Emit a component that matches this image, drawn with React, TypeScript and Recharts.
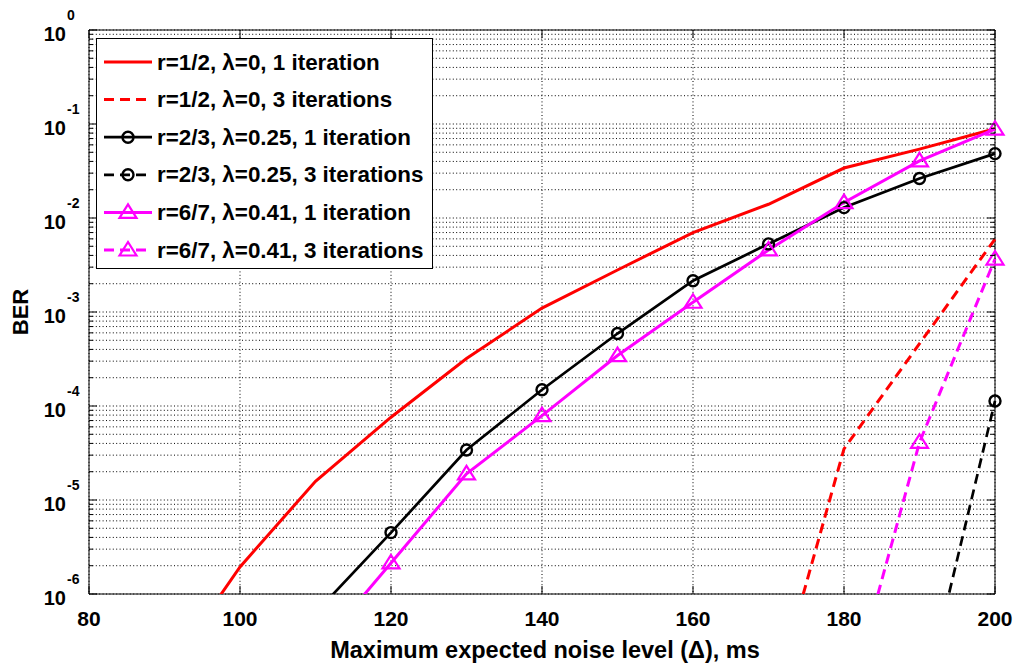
import React from "react";
import {
  LineChart,
  Line,
  XAxis,
  YAxis,
  CartesianGrid,
  Legend,
  ReferenceArea,
} from "recharts";

// x ticks and log decades
const xTicks = [80, 100, 120, 140, 160, 180, 200];
const decades = [-6, -5, -4, -3, -2, -1, 0];
const minorSteps = [1, 2, 3, 4, 5, 6, 7, 8, 9];

// r=1/2, lambda=0
const xR12One = [90, 100, 110, 120, 130, 140, 150, 160, 170, 180, 190, 200];
const berR12One = [1.35e-7, 1.94e-6, 1.58e-5, 7.6e-5, 3.2e-4, 1.1e-3, 2.8e-3, 7.0e-3, 1.4e-2, 3.4e-2, 5.4e-2, 8.9e-2];
const xR12Three = [170, 180, 190, 200];
const berR12Three = [4.8e-8, 3.5e-5, 4.6e-4, 5.97e-3];

// r=2/3, lambda=0.25
const xR23One = [110, 120, 130, 140, 150, 160, 170, 180, 190, 200];
const berR23One = [6.3e-7, 4.5e-6, 3.4e-5, 1.49e-4, 5.9e-4, 2.15e-3, 5.3e-3, 1.29e-2, 2.63e-2, 4.84e-2];
const xR23Three = [190, 200];
const berR23Three = [4.9e-8, 1.13e-4];

// r=6/7, lambda=0.41
const xR67One = [110, 120, 130, 140, 150, 160, 170, 180, 190, 200];
const berR67One = [2.4e-7, 2.14e-6, 1.9e-5, 7.9e-5, 3.44e-4, 1.27e-3, 4.57e-3, 1.46e-2, 4.05e-2, 8.8e-2];
const xR67Three = [180, 190, 200];
const berR67Three = [4.8e-8, 4.1e-5, 3.66e-3];

const W = 1017;
const H = 666;
const PLOT_LEFT = 89;
const PLOT_RIGHT = 995;
const PLOT_TOP = 30;
const PLOT_BOTTOM = 594;
const FONT = '"Liberation Sans", Arial, Helvetica, sans-serif';
const Y_MIN = 1e-6;

const yTicks = decades.flatMap((e) =>
  e === 0 ? [1] : minorSteps.map((m) => m * Math.pow(10, e))
);

type Marker = "none" | "circle" | "triangle";
type Series = {
  name: string;
  xs: number[];
  ys: number[];
  color: string;
  dashed: boolean;
  marker: Marker;
  width: number;
};

const series: Series[] = [
  { name: "r=1/2, \u03bb=0, 1 iteration", xs: xR12One, ys: berR12One, color: "#ff0000", dashed: false, marker: "none", width: 3 },
  { name: "r=1/2, \u03bb=0, 3 iterations", xs: xR12Three, ys: berR12Three, color: "#ff0000", dashed: true, marker: "none", width: 3 },
  { name: "r=2/3, \u03bb=0.25, 1 iteration", xs: xR23One, ys: berR23One, color: "#000000", dashed: false, marker: "circle", width: 2.7 },
  { name: "r=2/3, \u03bb=0.25, 3 iterations", xs: xR23Three, ys: berR23Three, color: "#000000", dashed: true, marker: "circle", width: 2.7 },
  { name: "r=6/7, \u03bb=0.41, 1 iteration", xs: xR67One, ys: berR67One, color: "#ff00ff", dashed: false, marker: "triangle", width: 3 },
  { name: "r=6/7, \u03bb=0.41, 3 iterations", xs: xR67Three, ys: berR67Three, color: "#ff00ff", dashed: true, marker: "triangle", width: 3 },
];

const toData = (xs: number[], ys: number[]) => xs.map((x, i) => ({ x, ber: ys[i] }));

const MarkerShape = ({ cx, cy, kind, color }: { cx: number; cy: number; kind: Marker; color: string }) => {
  if (kind === "circle") {
    return <circle cx={cx} cy={cy} r={5.5} fill="none" stroke={color} strokeWidth={2.4} />;
  }
  if (kind === "triangle") {
    const pts = `${cx},${cy - 8} ${cx - 8.5},${cy + 5.5} ${cx + 8.5},${cy + 5.5}`;
    return <polygon points={pts} fill="none" stroke={color} strokeWidth={2.2} />;
  }
  return null;
};

const XTick = (props: any) => {
  const { x, payload } = props;
  return (
    <g>
      <line x1={x} x2={x} y1={PLOT_BOTTOM} y2={PLOT_BOTTOM - 8} stroke="#000" />
      <line x1={x} x2={x} y1={PLOT_TOP} y2={PLOT_TOP + 8} stroke="#000" />
      <text x={x} y={618} textAnchor="middle" dominantBaseline="central" fontFamily={FONT} fontWeight="bold" fontSize={21} fill="#000">
        {payload.value}
      </text>
    </g>
  );
};

const YTick = (props: any) => {
  const { y, payload } = props;
  const lg = Math.log10(payload.value);
  const e = Math.round(lg);
  const major = Math.abs(lg - e) < 1e-6;
  const len = major ? 8 : 4;
  return (
    <g>
      <line x1={PLOT_LEFT} x2={PLOT_LEFT + len} y1={y} y2={y} stroke="#000" />
      <line x1={PLOT_RIGHT - len} x2={PLOT_RIGHT} y1={y} y2={y} stroke="#000" />
      {major && (
        <>
          <text x={66} y={y + 4} textAnchor="end" dominantBaseline="central" fontFamily={FONT} fontWeight="bold" fontSize={20} fill="#000">
            10
          </text>
          <text x={67} y={y - 15} textAnchor="start" dominantBaseline="central" fontFamily={FONT} fontWeight="bold" fontSize={14} fill="#000">
            {e === 0 ? "0" : `-${Math.abs(e)}`}
          </text>
        </>
      )}
    </g>
  );
};

const LegendBox = () => (
  <div style={{ width: 337, height: 231, border: "1px solid #000", background: "#fff", boxSizing: "border-box" }}>
    <svg width={335} height={229} style={{ display: "block" }}>
      {series.map((s, i) => {
        const y = 23 + i * 37.6;
        return (
          <g key={s.name}>
            <line x1={7} x2={55} y1={y} y2={y} stroke={s.color} strokeWidth={s.width} strokeDasharray={s.dashed ? "10 6" : undefined} />
            <MarkerShape cx={31} cy={y} kind={s.marker} color={s.color} />
            <text x={60} y={y} dominantBaseline="central" fontFamily={FONT} fontWeight="bold" fontSize={22.4} fill="#000">
              {s.name}
            </text>
          </g>
        );
      })}
    </svg>
  </div>
);

export default function App() {
  return (
    <div style={{ position: "absolute", left: 0, top: 0, width: W, height: H, background: "#fff" }}>
      <LineChart
        width={W}
        height={H}
        margin={{ top: PLOT_TOP, right: W - PLOT_RIGHT, bottom: H - PLOT_BOTTOM - 30, left: PLOT_LEFT - 60 }}
      >
        <CartesianGrid yAxisId="main" stroke="#000" strokeWidth={1} strokeDasharray="1 2.4" />
        <XAxis
          dataKey="x"
          type="number"
          domain={[80, 200]}
          ticks={xTicks}
          interval={0}
          height={30}
          axisLine={false}
          tickLine={false}
          tick={<XTick />}
          label={() => (
            <text x={545} y={650} textAnchor="middle" dominantBaseline="central" fontFamily={FONT} fontWeight="bold" fontSize={23.5} fill="#000">
              {"Maximum expected noise level (\u0394), ms"}
            </text>
          )}
        />
        <YAxis
          yAxisId="main"
          type="number"
          scale="log"
          domain={[Y_MIN, 1]}
          allowDataOverflow
          ticks={yTicks}
          interval={0}
          width={60}
          axisLine={false}
          tickLine={false}
          tick={<YTick />}
          label={() => (
            <text x={20} y={312} textAnchor="middle" dominantBaseline="central" transform="rotate(-90 20 312)" fontFamily={FONT} fontWeight="bold" fontSize={22} fill="#000">
              BER
            </text>
          )}
        />
        <YAxis yAxisId="mk" hide type="number" scale="log" domain={[Y_MIN, 1]} />
        <ReferenceArea yAxisId="main" x1={80} x2={200} y1={Y_MIN} y2={1} fill="none" stroke="#000" strokeWidth={1} />
        {series.map((s) => (
          <Line
            key={s.name}
            yAxisId="main"
            data={toData(s.xs, s.ys)}
            dataKey="ber"
            name={s.name}
            type="linear"
            stroke={s.color}
            strokeWidth={s.width}
            strokeDasharray={s.dashed ? "10 6" : undefined}
            dot={false}
            activeDot={false}
            isAnimationActive={false}
          />
        ))}
        {series
          .filter((s) => s.marker !== "none")
          .map((s) => (
            <Line
              key={`${s.name}-markers`}
              yAxisId="mk"
              data={toData(s.xs, s.ys).filter((d) => d.ber >= Y_MIN)}
              dataKey="ber"
              stroke="none"
              legendType="none"
              dot={(p: any) => <MarkerShape key={`m-${p.index}`} cx={p.cx} cy={p.cy} kind={s.marker} color={s.color} />}
              activeDot={false}
              isAnimationActive={false}
            />
          ))}
        <Legend
          layout="vertical"
          verticalAlign="middle"
          align="center"
          wrapperStyle={{ left: 96, top: 38, width: 337, height: 231 }}
          content={() => <LegendBox />}
        />
      </LineChart>
    </div>
  );
}
